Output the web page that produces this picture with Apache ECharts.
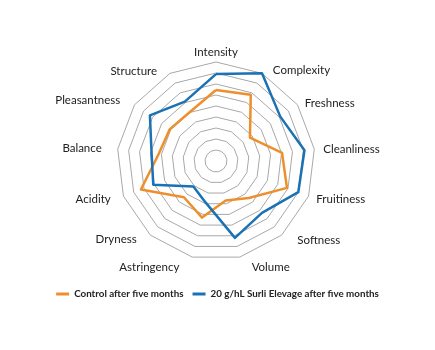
<!DOCTYPE html>
<html>
<head>
<meta charset="utf-8">
<script src="https://cdn.jsdelivr.net/npm/echarts@6/dist/echarts.min.js"></script>
<style>
  html, body { margin: 0; padding: 0; background: #fff; }
  #chart { width: 435px; height: 350px; }
</style>
</head>
<body>
<div id="chart"></div>
<script>
// Attributes, clockwise from the top
const attributes = [
  'Intensity', 'Complexity', 'Freshness', 'Cleanliness', 'Fruitiness',
  'Softness', 'Volume', 'Astringency', 'Dryness', 'Acidity',
  'Balance', 'Pleasantness', 'Structure'
];
const controlScores = [6.45, 6.8, 3.75, 6.05, 6.9, 4.5, 3.7, 5.3, 4.4, 7.3, 5.25, 5.1, 5.05];
const surliScores = [7.9, 9.0, 7.1, 8.1, 8.0, 6.3, 7.2, 3.9, 3.1, 6.1, 5.9, 7.3, 6.1];
const seriesNames = ['Control after five months', '20 g/hL Surli Elevage after five months'];
const scaleMax = 9;

const FONT = 'Lato, "Noto Sans", sans-serif';

// extra outward nudge of each axis name [dx, dy] in px (same order as attributes)
const nameNudge = [
  [0, 0], [9, 0], [4, 1], [5, 1], [4, 2], [13, 2], [11, 6],
  [-12, 6], [-11, 1], [-9, 2], [-12, 0], [-11, -2], [-11, 1]
];

// ECharts lays indicators out counter-clockwise, so keep the first one on top and reverse the rest
const toRadarOrder = arr => [arr[0], ...arr.slice(1).reverse()];

// turn a nudge into rich-text padding (labels are middle aligned, left or right aligned by side)
const rich = {};
attributes.forEach((name, i) => {
  const [dx, dy] = nameNudge[i];
  const pad = [0, 0, 0, 0];
  if (dx > 0) pad[3] = dx; else pad[1] = -dx;
  if (dy > 0) pad[0] = 2 * dy; else pad[2] = -2 * dy;
  rich['n' + i] = { padding: pad, fontSize: 11.5, color: '#222', fontFamily: FONT };
});

const chart = echarts.init(document.getElementById('chart'));

chart.setOption({
  animation: false,
  textStyle: { fontFamily: FONT },
  legend: {
    bottom: 46,
    left: 'center',
    itemWidth: 13,
    itemHeight: 3,
    itemGap: 9,
    icon: 'rect',
    textStyle: { fontSize: 9.8, fontWeight: 'bold', color: '#222', fontFamily: FONT },
    data: seriesNames
  },
  radar: {
    center: [216, 161],
    radius: 99,
    startAngle: 90,
    shape: 'polygon',
    splitNumber: 9,
    nameGap: 4,
    axisName: {
      color: '#222',
      fontSize: 11.5,
      fontFamily: FONT,
      formatter: name => '{n' + attributes.indexOf(name) + '|' + name + '}',
      rich
    },
    axisLine: { show: false },
    axisTick: { show: false },
    splitArea: { show: false },
    splitLine: { lineStyle: { color: '#a8a8a8', width: 1 } },
    indicator: toRadarOrder(attributes).map(name => ({ name, min: 0, max: scaleMax }))
  },
  series: [{
    type: 'radar',
    symbol: 'none',
    data: [
      {
        name: seriesNames[0],
        value: toRadarOrder(controlScores),
        itemStyle: { color: '#ee8f2d' },
        lineStyle: { color: '#ee8f2d', width: 2.5 }
      },
      {
        name: seriesNames[1],
        value: toRadarOrder(surliScores),
        itemStyle: { color: '#1a72b5' },
        lineStyle: { color: '#1a72b5', width: 2.5 }
      }
    ]
  }]
});
</script>
</body>
</html>
